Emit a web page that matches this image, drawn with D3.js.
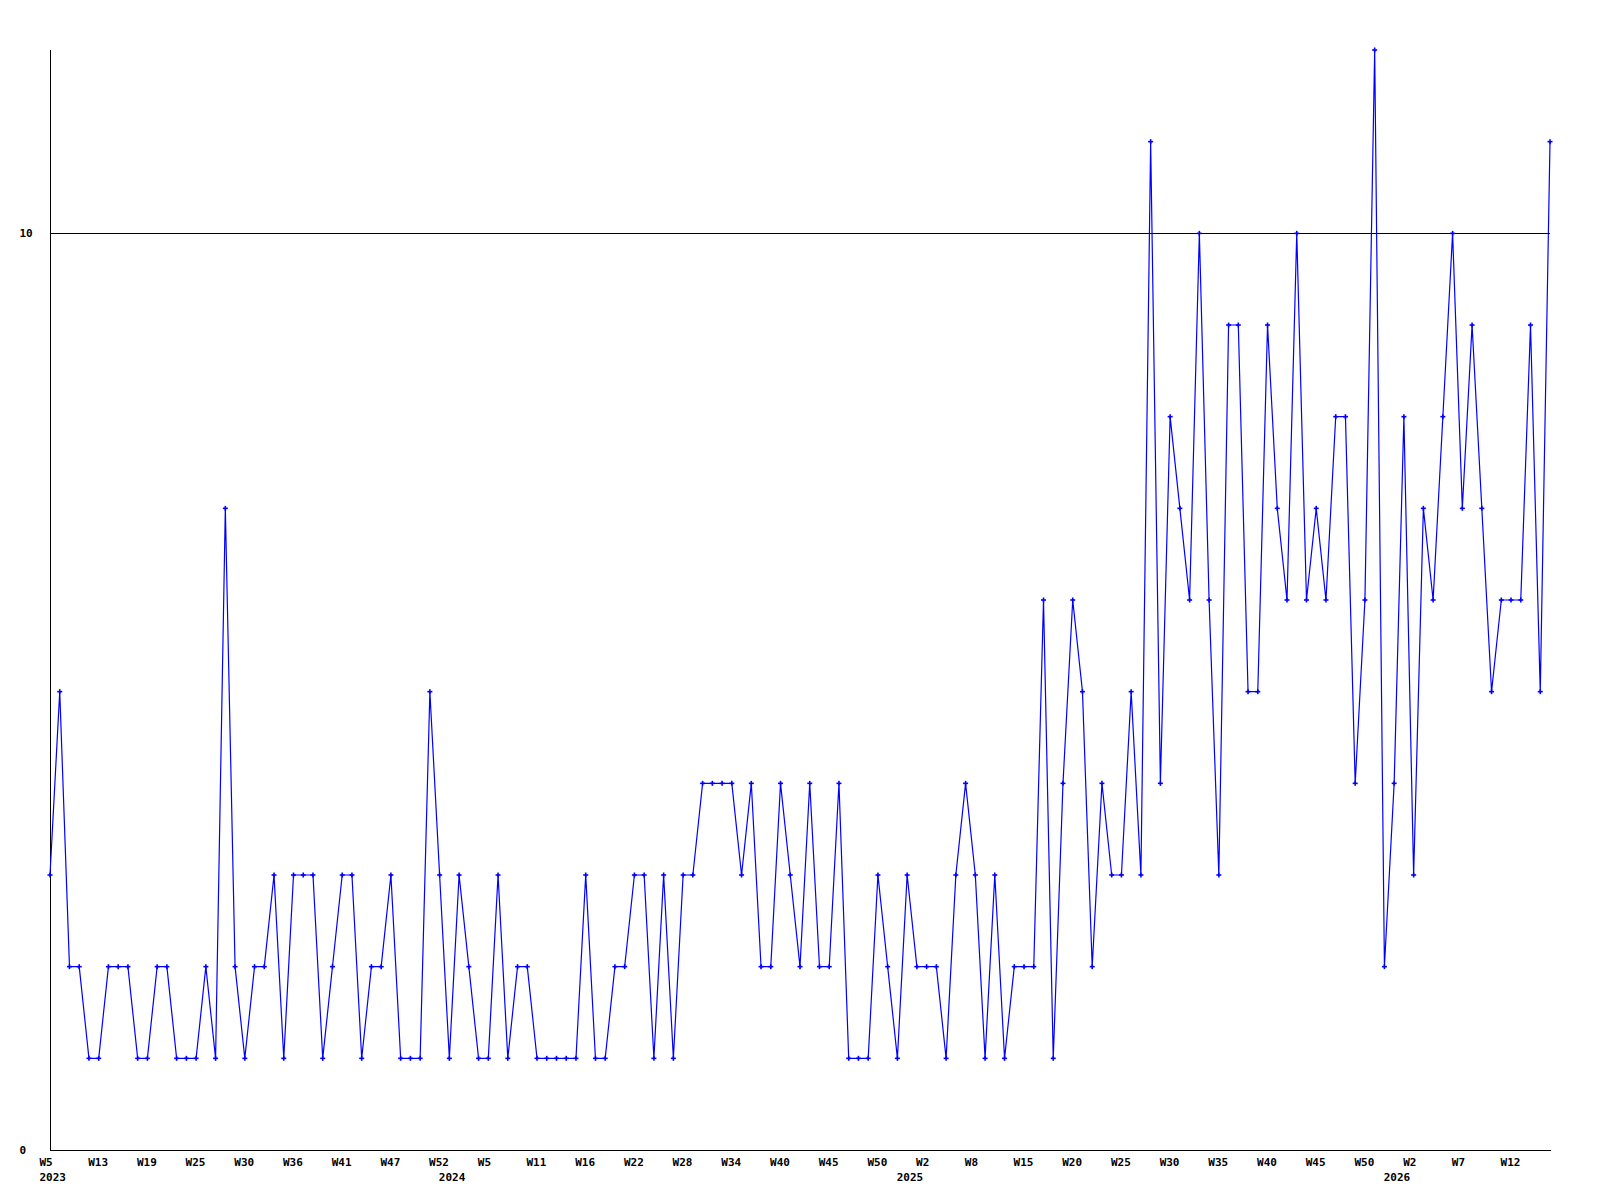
<!DOCTYPE html>
<html>
<head>
<meta charset="utf-8">
<script src="https://cdn.jsdelivr.net/npm/d3@7"></script>
<style>
  html, body { margin: 0; padding: 0; background: #ffffff; }
  svg { display: block; }
  text { font-family: "DejaVu Sans Mono", "Liberation Mono", monospace; font-size: 11px; font-weight: bold; fill: #000; }
</style>
</head>
<body>
<svg id="chart" width="1600" height="1200"></svg>
<script>
// Weekly values, one per plotted point
const values = [
  3,5,2,2,1,1,2,2,2,1,
  1,2,2,1,1,1,2,1,7,2,
  1,2,2,3,1,3,3,3,1,2,
  3,3,1,2,2,3,1,1,1,5,
  3,1,3,2,1,1,3,1,2,2,
  1,1,1,1,1,3,1,1,2,2,
  3,3,1,3,1,3,3,4,4,4,
  4,3,4,2,2,4,3,2,4,2,
  2,4,1,1,1,3,2,1,3,2,
  2,2,1,3,4,3,1,3,1,2,
  2,2,6,1,4,6,5,2,4,3,
  3,5,3,11,4,8,7,6,10,6,
  3,9,9,5,5,9,7,6,10,6,
  7,6,8,8,4,6,12,2,4,8,
  3,7,6,8,10,7,9,7,5,6,
  6,6,9,5,11
];
// Week tick labels, one every 5th point
const tickLabels = ["W5","W13","W19","W25","W30","W36","W41","W47","W52",
  "W5","W11","W16","W22","W28","W34","W40","W45","W50",
  "W2","W8","W15","W20","W25","W30","W35","W40","W45","W50",
  "W2","W7","W12"];
const tickStep = 5;
// Year labels and the point where each year starts
const yearLabels = ["2023","2024","2025","2026"];
const yearStarts = [0, 41, 88, 138];
// Y axis labels / reference line
const yTicks = [0, 10];
const yMax = 12;

const svg = d3.select("#chart");
const x = d3.scaleLinear().domain([0, values.length - 1]).range([50, 1550]);
const y = d3.scaleLinear().domain([0, yMax]).range([1150, 50]);

// reference line at 10 and axes
svg.append("line")
  .attr("x1", x(0)).attr("x2", x(values.length - 1))
  .attr("y1", Math.round(y(10)) + 0.5).attr("y2", Math.round(y(10)) + 0.5)
  .attr("stroke", "#000").attr("stroke-width", 1).attr("shape-rendering", "crispEdges");
svg.append("line")
  .attr("x1", x(0) + 0.5).attr("x2", x(0) + 0.5)
  .attr("y1", y(yMax)).attr("y2", y(0) + 0.5)
  .attr("stroke", "#000").attr("stroke-width", 1).attr("shape-rendering", "crispEdges");
svg.append("line")
  .attr("x1", x(0)).attr("x2", x(values.length - 1) + 1)
  .attr("y1", y(0) + 0.5).attr("y2", y(0) + 0.5)
  .attr("stroke", "#000").attr("stroke-width", 1).attr("shape-rendering", "crispEdges");

// y labels
svg.selectAll("text.ylab").data(yTicks).enter().append("text")
  .attr("class", "ylab")
  .attr("x", 19.5).attr("y", d => y(d))
  .attr("dominant-baseline", "central")
  .text(d => d);

// x week labels
svg.selectAll("text.xlab").data(tickLabels).enter().append("text")
  .attr("class", "xlab")
  .attr("x", (d, i) => x(i * tickStep) - 10.5)
  .attr("y", 1162)
  .attr("dominant-baseline", "central")
  .text(d => d);

// year labels
svg.selectAll("text.yr").data(yearLabels).enter().append("text")
  .attr("class", "yr")
  .attr("x", (d, i) => x(yearStarts[i]) - 10.5)
  .attr("y", 1177)
  .attr("dominant-baseline", "central")
  .text(d => d);

// data line
const line = d3.line().x((d, i) => x(i)).y(d => y(d));
svg.append("path").datum(values)
  .attr("d", line)
  .attr("fill", "none")
  .attr("stroke", "#0000ff")
  .attr("stroke-width", 1.2);

// markers (small plus signs)
const mk = svg.append("g").attr("stroke", "#0000ff").attr("stroke-width", 1.6);
values.forEach((v, i) => {
  const cx = x(i), cy = y(v);
  mk.append("line").attr("x1", cx - 2.5).attr("x2", cx + 2.5).attr("y1", cy).attr("y2", cy);
  mk.append("line").attr("x1", cx).attr("x2", cx).attr("y1", cy - 2.5).attr("y2", cy + 2.5);
});
</script>
</body>
</html>
